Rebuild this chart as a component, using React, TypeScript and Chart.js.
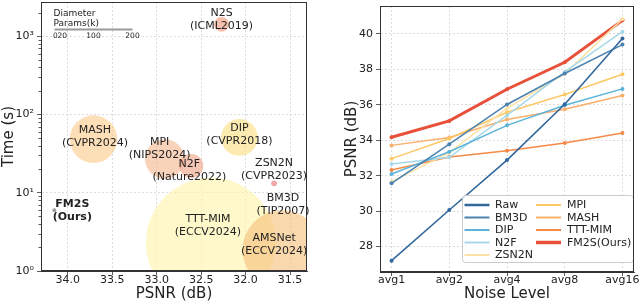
import React, { useEffect, useRef } from "react";
import { Chart, registerables } from "chart.js";

Chart.register(...registerables);
Chart.defaults.font.family = "'DejaVu Sans', sans-serif";
Chart.defaults.color = "#222";

// ---------- Left panel data (PSNR vs time, bubble = params) ----------
const methods = ["TTT-MIM", "AMSNet", "MASH", "MPI", "N2F", "DIP", "N2S", "ZSN2N", "BM3D", "FM2S"];
const venues = ["(ECCV2024)", "(ECCV2024)", "(CVPR2024)", "(NIPS2024)", "(Nature2022)", "(CVPR2018)", "(ICML2019)", "(CVPR2023)", "(TIP2007)", "(Ours)"];
const psnrValues = [32.39, 31.59, 33.71, 32.91, 32.61, 32.07, 32.27, 31.68, 31.58, 34.15];
const timeValues = [2.3, 1.86, 48.5, 27, 22, 51, 1425, 13.2, 6.7, 5.97];
const paramsK = [333, 203, 122, 101, 61, 94, 38, 15, 3, 10];
const psnrTicks = [31.5, 32.0, 32.5, 33.0, 33.5, 34.0];
const timeTicks = [1, 10, 100, 1000];
const sizeTicks = [0, 20, 100, 200];

// ---------- Right panel data (PSNR vs noise level) ----------
const noiseLevels = ["avg1", "avg2", "avg4", "avg8", "avg16"];
const seriesNames = ["Raw", "BM3D", "DIP", "N2F", "ZSN2N", "MPI", "MASH", "TTT-MIM", "FM2S(Ours)"];
const rawPsnr = [27.2, 30.06, 32.88, 36.03, 39.75];
const bm3dPsnr = [31.57, 33.78, 36.02, 37.77, 39.4];
const dipPsnr = [32.09, 33.35, 34.84, 35.98, 36.9];
const n2fPsnr = [32.66, 33.04, 35.4, 37.86, 40.13];
const zsn2nPsnr = [31.66, 33.3, 35.8, 37.75, 40.85];
const mpiPsnr = [32.96, 34.1, 35.58, 36.58, 37.73];
const mashPsnr = [33.71, 34.15, 35.17, 35.75, 36.53];
const tttPsnr = [32.32, 33.05, 33.4, 33.84, 34.41];
const fm2sPsnr = [34.17, 35.09, 36.88, 38.4, 40.77];
const psnrAxisTicks = [28, 30, 32, 34, 36, 38, 40];

// ---------- styles ----------
const PX_PER_K = 0.39; // diameter pixels per k params
const bubbleColors = [
  "rgba(255,244,175,0.65)",
  "rgba(246,190,120,0.6)",
  "rgba(250,202,135,0.6)",
  "rgba(245,180,140,0.6)",
  "rgba(240,160,130,0.6)",
  "rgba(250,222,125,0.6)",
  "rgba(240,150,120,0.6)",
  "rgba(235,130,130,0.7)",
  "rgba(120,190,230,0.9)",
  "rgba(150,150,150,0.9)",
];
const labelOffsets: [number, number][] = [
  [-3, -17], [-8, -5], [1.5, -3], [-5, -10], [-2, 5], [0, -3], [0, -5], [0, -14], [0, -2], [18, 0],
];
const lineColors = ["#32679c", "#4a82b0", "#5cb3d8", "#a8d8e8", "#fee2a5", "#fdc865", "#f9b06c", "#f58a48", "#e8503a"];
const lineWidths = [1.6, 1.5, 1.5, 1.5, 1.5, 1.5, 1.5, 1.5, 3];
const rightSeries = [rawPsnr, bm3dPsnr, dipPsnr, n2fPsnr, zsn2nPsnr, mpiPsnr, mashPsnr, tttPsnr, fm2sPsnr];

const sup: Record<number, string> = { 1: "10\u2070", 10: "10\u00b9", 100: "10\u00b2", 1000: "10\u00b3" };
const GRID = "#d4d4d4";
const AXIS = "#333";

const framePlugin = {
  id: "frame",
  afterDraw(chart: any) {
    const { ctx, chartArea: a } = chart;
    ctx.save();
    ctx.strokeStyle = AXIS;
    ctx.lineWidth = 1;
    ctx.strokeRect(Math.round(a.left) + 0.5, Math.round(a.top) + 0.5, Math.round(a.right - a.left) - 1, Math.round(a.bottom - a.top) - 1);
    ctx.restore();
  },
};

const bubbleLabelPlugin = {
  id: "bubbleLabels",
  afterDatasetsDraw(chart: any) {
    const { ctx, scales } = chart;
    ctx.save();
    ctx.textAlign = "center";
    ctx.textBaseline = "middle";
    ctx.fillStyle = "#222";
    methods.forEach((m, i) => {
      const px = scales.x.getPixelForValue(psnrValues[i]) + labelOffsets[i][0];
      const py = scales.y.getPixelForValue(timeValues[i]) + labelOffsets[i][1];
      ctx.font = (m === "FM2S" ? "bold " : "") + "11px 'DejaVu Sans'";
      ctx.fillText(m, px, py - 6.5);
      ctx.fillText(venues[i], px, py + 6.5);
    });
    // size legend
    const a = chart.chartArea;
    const x0 = a.left + 13.5;
    ctx.textAlign = "left";
    ctx.font = "9px 'DejaVu Sans'";
    ctx.fillText("Diameter", a.left + 12.5, a.top + 12);
    ctx.fillText("Params(k)", a.left + 12.5, a.top + 21.5);
    ctx.strokeStyle = "#9a9a9a";
    ctx.lineWidth = 2;
    ctx.beginPath();
    ctx.moveTo(x0, a.top + 27.5);
    ctx.lineTo(x0 + sizeTicks[sizeTicks.length - 1] * PX_PER_K, a.top + 27.5);
    ctx.stroke();
    ctx.textAlign = "center";
    ctx.font = "7.5px 'DejaVu Sans'";
    sizeTicks.forEach((t) => {
      const tx = x0 + t * PX_PER_K + (t === 0 ? 1 : 0);
      ctx.fillText(String(t), tx, a.top + 34);
    });
    // minor log ticks
    ctx.strokeStyle = AXIS;
    ctx.lineWidth = 0.8;
    for (let d = 1; d <= 1000; d *= 10) {
      for (let k = 2; k <= 9; k++) {
        const v = d * k;
        if (v > scales.y.max) continue;
        const y = Math.round(scales.y.getPixelForValue(v)) + 0.5;
        ctx.beginPath();
        ctx.moveTo(a.left, y);
        ctx.lineTo(a.left - 2.5, y);
        ctx.stroke();
      }
    }
    ctx.restore();
  },
};

const lineLegendPlugin = {
  id: "lineLegend",
  afterDatasetsDraw(chart: any) {
    const { ctx, chartArea: a } = chart;
    const x0 = a.left + 82;
    const y0 = a.top + 189;
    const w = 171;
    const h = 67;
    ctx.save();
    ctx.fillStyle = "rgba(255,255,255,0.85)";
    ctx.strokeStyle = "#cccccc";
    ctx.lineWidth = 1;
    ctx.beginPath();
    (ctx as any).roundRect(x0 + 0.5, y0 + 0.5, w, h, 3);
    ctx.fill();
    ctx.stroke();
    ctx.font = "11px 'DejaVu Sans'";
    ctx.textBaseline = "middle";
    ctx.textAlign = "left";
    seriesNames.forEach((name, i) => {
      const col = i < 5 ? 0 : 1;
      const row = i < 5 ? i : i - 5;
      const y = y0 + 10 + row * 12.5;
      const lx = x0 + (col === 0 ? 2.5 : 74);
      ctx.strokeStyle = lineColors[i];
      ctx.lineWidth = i === 0 ? 2.5 : lineWidths[i] + 0.5;
      ctx.beginPath();
      ctx.moveTo(lx, y);
      ctx.lineTo(lx + 25, y);
      ctx.stroke();
      ctx.fillStyle = "#222";
      ctx.fillText(name, x0 + (col === 0 ? 33 : 105), y + 0.5);
    });
    ctx.restore();
  },
};

export default function App() {
  const leftRef = useRef<HTMLCanvasElement>(null);
  const rightRef = useRef<HTMLCanvasElement>(null);

  useEffect(() => {
    const left = new Chart(leftRef.current as HTMLCanvasElement, {
      type: "bubble",
      data: {
        datasets: [
          {
            data: methods.map((_, i) => ({ x: psnrValues[i], y: timeValues[i], r: (paramsK[i] * PX_PER_K) / 2 })),
            backgroundColor: bubbleColors,
            borderWidth: 0,
            clip: 0,
          } as any,
        ],
      },
      options: {
        animation: false,
        responsive: true,
        maintainAspectRatio: false,
        layout: { autoPadding: false, padding: { left: 0, right: 13, top: 2, bottom: 0 } },
        plugins: { legend: { display: false }, tooltip: { enabled: false } },
        events: [],
        scales: {
          x: {
            type: "linear",
            reverse: true,
            min: 31.31,
            max: 34.3,
            afterBuildTicks: (s: any) => {
              s.ticks = psnrTicks.map((v) => ({ value: v }));
            },
            afterFit: (s: any) => {
              s.height = 32;
              s.paddingLeft = 0;
              s.paddingRight = 0;
            },
            ticks: { callback: (v: any) => Number(v).toFixed(1), font: { size: 11 }, color: "#222", padding: -1, maxRotation: 0 },
            grid: { color: GRID, lineWidth: 0.8, tickColor: AXIS, tickLength: 4 },
            border: { display: true, color: AXIS, dash: [2, 2] },
            title: { display: true, text: "PSNR (dB)", font: { size: 15 }, color: "#222", padding: 0 },
          },
          y: {
            type: "logarithmic",
            min: 1,
            max: 2750,
            afterBuildTicks: (s: any) => {
              s.ticks = timeTicks.map((v) => ({ value: v }));
            },
            afterFit: (s: any) => {
              s.width = 41;
              s.paddingTop = 0;
              s.paddingBottom = 0;
            },
            ticks: { callback: (v: any) => sup[v] ?? "", font: { size: 11 }, color: "#222", padding: 3 },
            grid: { color: GRID, lineWidth: 0.8, tickColor: AXIS, tickLength: 4 },
            border: { display: true, color: AXIS, dash: [2, 2] },
            title: { display: true, text: "Time (s)", font: { size: 15 }, color: "#222", padding: 0 },
          },
        },
      } as any,
      plugins: [bubbleLabelPlugin, framePlugin],
    });

    const right = new Chart(rightRef.current as HTMLCanvasElement, {
      type: "line",
      data: {
        datasets: seriesNames.map((name, i) => ({
          label: name,
          data: rightSeries[i].map((v, j) => ({ x: j, y: v })),
          borderColor: lineColors[i],
          backgroundColor: lineColors[i],
          borderWidth: lineWidths[i],
          pointRadius: 2,
          pointBorderWidth: 0,
          pointBackgroundColor: lineColors[i],
          tension: 0,
          fill: false,
        })),
      },
      options: {
        animation: false,
        responsive: true,
        maintainAspectRatio: false,
        layout: { autoPadding: false, padding: { left: 0, right: 6, top: 6, bottom: 0 } },
        plugins: { legend: { display: false }, tooltip: { enabled: false } },
        events: [],
        scales: {
          x: {
            type: "linear",
            min: -0.2,
            max: 4.2,
            afterBuildTicks: (s: any) => {
              s.ticks = noiseLevels.map((_, i) => ({ value: i }));
            },
            afterFit: (s: any) => {
              s.height = 31;
              s.paddingLeft = 0;
              s.paddingRight = 0;
            },
            ticks: { callback: (v: any) => noiseLevels[v] ?? "", font: { size: 11 }, color: "#222", padding: -2, maxRotation: 0 },
            grid: { color: GRID, lineWidth: 0.8, tickColor: AXIS, tickLength: 4 },
            border: { display: true, color: AXIS, dash: [2, 2] },
            title: { display: true, text: "Noise Level", font: { size: 15 }, color: "#222", padding: 0 },
          },
          y: {
            type: "linear",
            min: 26.56,
            max: 41.58,
            afterBuildTicks: (s: any) => {
              s.ticks = psnrAxisTicks.map((v) => ({ value: v }));
            },
            afterFit: (s: any) => {
              s.width = 60;
              s.paddingTop = 0;
              s.paddingBottom = 0;
            },
            ticks: { font: { size: 11 }, color: "#222", padding: 3 },
            grid: { color: GRID, lineWidth: 0.8, tickColor: AXIS, tickLength: 4 },
            border: { display: true, color: AXIS, dash: [2, 2] },
            title: { display: true, text: "PSNR (dB)", font: { size: 15 }, color: "#222", padding: { top: 23, bottom: 0 } },
          },
        },
      } as any,
      plugins: [lineLegendPlugin, framePlugin],
    });

    return () => {
      left.destroy();
      right.destroy();
    };
  }, []);

  return (
    <div style={{ position: "fixed", left: 0, top: 0, width: 640, height: 303, background: "#fff" }}>
      <div style={{ position: "absolute", left: 0, top: 0, width: 320, height: 303 }}>
        <canvas ref={leftRef} />
      </div>
      <div style={{ position: "absolute", left: 320, top: 0, width: 320, height: 303 }}>
        <canvas ref={rightRef} />
      </div>
    </div>
  );
}
